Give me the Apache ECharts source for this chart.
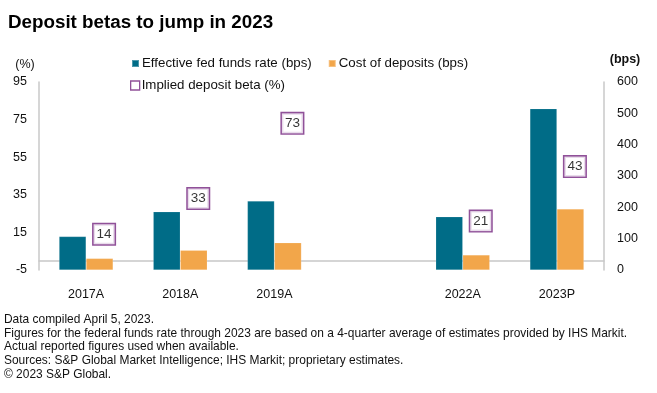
<!DOCTYPE html>
<html><head><meta charset="utf-8">
<script src="https://cdn.jsdelivr.net/npm/echarts@6/dist/echarts.min.js"></script>
<style>html,body{margin:0;padding:0;background:#fff}#c{width:657px;height:393px}</style>
</head><body><div id="c"></div>
<script>
const categories = ['2017A', '2018A', '2019A', '', '2022A', '2023P'];
const fedFunds = [107, 186, 220, '-', 170, 515];
const costDeposits = [37, 63, 87, '-', 48, 195];
const betaLabels = [14, 33, 73, '-', 21, 43];
const betaPos = [14, 33, 73, '-', 21, 50];
const leftTicks = { min: -5, max: 95, interval: 20 };
const rightTicks = { min: 0, max: 600, interval: 100 };
const notes = [
  'Data compiled April 5, 2023.',
  'Figures for the federal funds rate through 2023 are based on a 4-quarter average of estimates provided by IHS Markit.',
  'Actual reported figures used when available.',
  'Sources: S&P Global Market Intelligence; IHS Markit; proprietary estimates.',
  '\u00A9 2023 S&P Global.'
];

const FONT = 'Liberation Sans, Arial, sans-serif';
const TEAL = '#006c87', ORANGE = '#f2a64a', PURPLE = '#74267f';

const chart = echarts.init(document.getElementById('c'), null, { renderer: 'canvas' });
chart.setOption({
  animation: false,
  backgroundColor: '#fff',
  textStyle: { fontFamily: FONT },
  title: {
    text: 'Deposit betas to jump in 2023', left: 3, top: 8,
    textStyle: { fontFamily: FONT, fontWeight: 'bold', fontSize: 18.8, color: '#000' }
  },
  legend: [
    { left: 131, top: 57, padding: 0, itemWidth: 7, itemHeight: 7, itemGap: 16, icon: 'rect',
      textStyle: { fontSize: 13.3, color: '#111', fontFamily: FONT, padding: [0, 0, 0, -2] },
      data: ['Effective fed funds rate (bps)', 'Cost of deposits (bps)'] },
    { left: 130, top: 79, padding: 0, itemWidth: 9, itemHeight: 9,
      textStyle: { fontSize: 13.3, color: '#111', fontFamily: FONT, padding: [0, 0, 0, -3] },
      data: [{ name: 'Implied deposit beta (%)', icon: 'rect',
        itemStyle: { color: '#fff', borderColor: PURPLE, borderWidth: 1.3 } }] }
  ],
  grid: { left: 39, right: 53, top: 82, bottom: 123 },
  xAxis: {
    type: 'category', data: categories,
    axisLine: { lineStyle: { color: '#c8c8c8', width: 1.5 } },
    axisTick: { show: false },
    axisLabel: { color: '#111', fontSize: 12.5, margin: 18 }
  },
  yAxis: [
    { type: 'value', min: leftTicks.min, max: leftTicks.max, interval: leftTicks.interval,
      name: '(%)', nameLocation: 'end', nameGap: 11,
      nameTextStyle: { color: '#111', fontSize: 12.5, align: 'center', padding: [0, 28, 0, 0] },
      axisLine: { show: true, lineStyle: { color: '#c8c8c8', width: 1.5 } },
      axisTick: { show: false }, splitLine: { show: false },
      axisLabel: { color: '#111', fontSize: 12.5, margin: 12 } },
    { type: 'value', min: rightTicks.min, max: rightTicks.max, interval: rightTicks.interval,
      name: '(bps)', nameLocation: 'end', nameGap: 16,
      nameTextStyle: { color: '#111', fontSize: 12.5, fontWeight: 'bold', align: 'center', padding: [0, 0, 0, 42] },
      axisLine: { show: true, lineStyle: { color: '#c8c8c8', width: 1.5 } },
      axisTick: { show: false }, splitLine: { show: false },
      axisLabel: { color: '#111', fontSize: 12.5, margin: 13 } }
  ],
  series: [
    { name: 'Effective fed funds rate (bps)', type: 'bar', yAxisIndex: 1, data: fedFunds,
      barWidth: 27, barGap: '0%', itemStyle: { color: TEAL, borderColor: 'rgba(255,255,255,0.3)', borderWidth: 0.5 } },
    { name: 'Cost of deposits (bps)', type: 'bar', yAxisIndex: 1, data: costDeposits,
      barWidth: 27, barGap: '0%', itemStyle: { color: ORANGE, borderColor: 'rgba(255,255,255,0.3)', borderWidth: 0.5 } },
    { name: 'Implied deposit beta (%)', type: 'scatter', yAxisIndex: 0,
      data: betaPos.map((v, i) => v === '-' ? '-' : { value: v, beta: betaLabels[i] }),
      symbol: 'rect', symbolSize: 1, itemStyle: { color: 'rgba(0,0,0,0)' },
      label: { show: true, position: 'inside', offset: [18, 0],
        formatter: p => String(betaLabels[p.dataIndex]),
        color: '#000', fontSize: 13.5, backgroundColor: '#fff',
        borderColor: PURPLE, borderWidth: 1.5, padding: [4, 3, 2, 3] },
      z: 5 }
  ],
  graphic: notes.map((t, i) => ({
    type: 'text', left: 4, top: 314 + i * 13.6,
    style: { text: t, fontSize: 11.95, fontFamily: FONT, fill: '#111' }
  }))
});
</script></body></html>
